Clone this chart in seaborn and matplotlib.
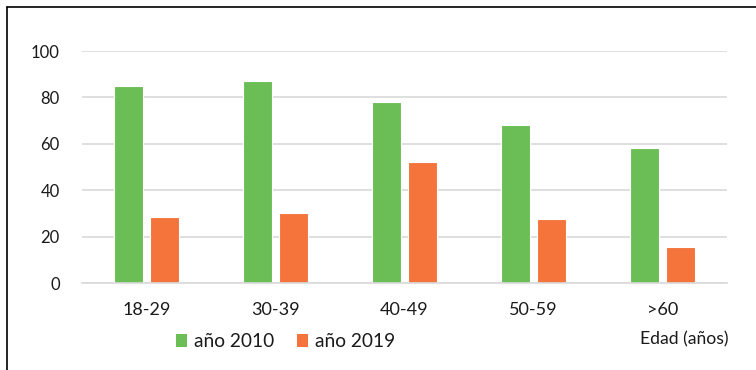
import numpy as np
import pandas as pd
import matplotlib
matplotlib.use('Agg')
import matplotlib.pyplot as plt
import seaborn as sns
from matplotlib.lines import Line2D
from matplotlib.patches import Patch

# Data
edades = ['18-29', '30-39', '40-49', '50-59', '>60']
anio_2010 = [85, 87, 78, 68, 58]
anio_2019 = [28.5, 30, 52, 27.5, 15.5]
series = ['año 2010', 'año 2019']
colores = ['#6abe55', '#f4743b']

df = pd.DataFrame({
    'edad': edades * 2,
    'valor': anio_2010 + anio_2019,
    'serie': [series[0]] * len(edades) + [series[1]] * len(edades),
})

sns.set_style('white')
plt.rcParams['font.family'] = ['Lato', 'DejaVu Sans']

fig = plt.figure(figsize=(7.56, 3.70), dpi=100)
ax = fig.add_axes([0.1085, 0.235, 0.853, 0.627])

sns.barplot(data=df, x='edad', y='valor', hue='serie', palette=colores,
            saturation=1, width=0.56, gap=0.2, edgecolor='#ffffff',
            linewidth=0.8, ax=ax, legend=False)

ax.set_ylim(0, 100)
ax.set_xlim(-0.5, len(edades) - 0.5)
ax.set_yticks(range(0, 101, 20))
ax.yaxis.grid(True, color='#d9d9d9', linewidth=1.2)
ax.set_axisbelow(True)
for s in ['top', 'right', 'left']:
    ax.spines[s].set_visible(False)
ax.spines['bottom'].set_color('#d9d9d9')
ax.spines['bottom'].set_linewidth(1.2)
ax.tick_params(axis='both', length=0, colors='#1a1a1a')
ax.tick_params(axis='y', pad=16, labelsize=12)
ax.tick_params(axis='x', pad=14, labelsize=13)
ax.set_xlabel('')
ax.set_ylabel('')

fig.text(0.963, 0.082, 'Edad (años)', ha='right', va='center',
         fontsize=12.6, color='#1a1a1a')

handles = [Patch(facecolor=c, edgecolor='none', label=l) for c, l in zip(colores, series)]
fig.legend(handles=handles, loc='center left', bbox_to_anchor=(0.233, 0.076),
           ncol=2, frameon=False, fontsize=13.8, handlelength=0.58, handleheight=0.62,
           handletextpad=0.35, columnspacing=1.2, borderpad=0, borderaxespad=0,
           labelcolor='#1a1a1a')

# Frame lines (top and left) as in the reference
fig.add_artist(Line2D([0.0093, 1.0], [0.981, 0.981], color='black', linewidth=1.2))
fig.add_artist(Line2D([0.0093, 0.0093], [0.0, 0.981], color='black', linewidth=1.2))

fig.savefig('out.png', dpi=100)
